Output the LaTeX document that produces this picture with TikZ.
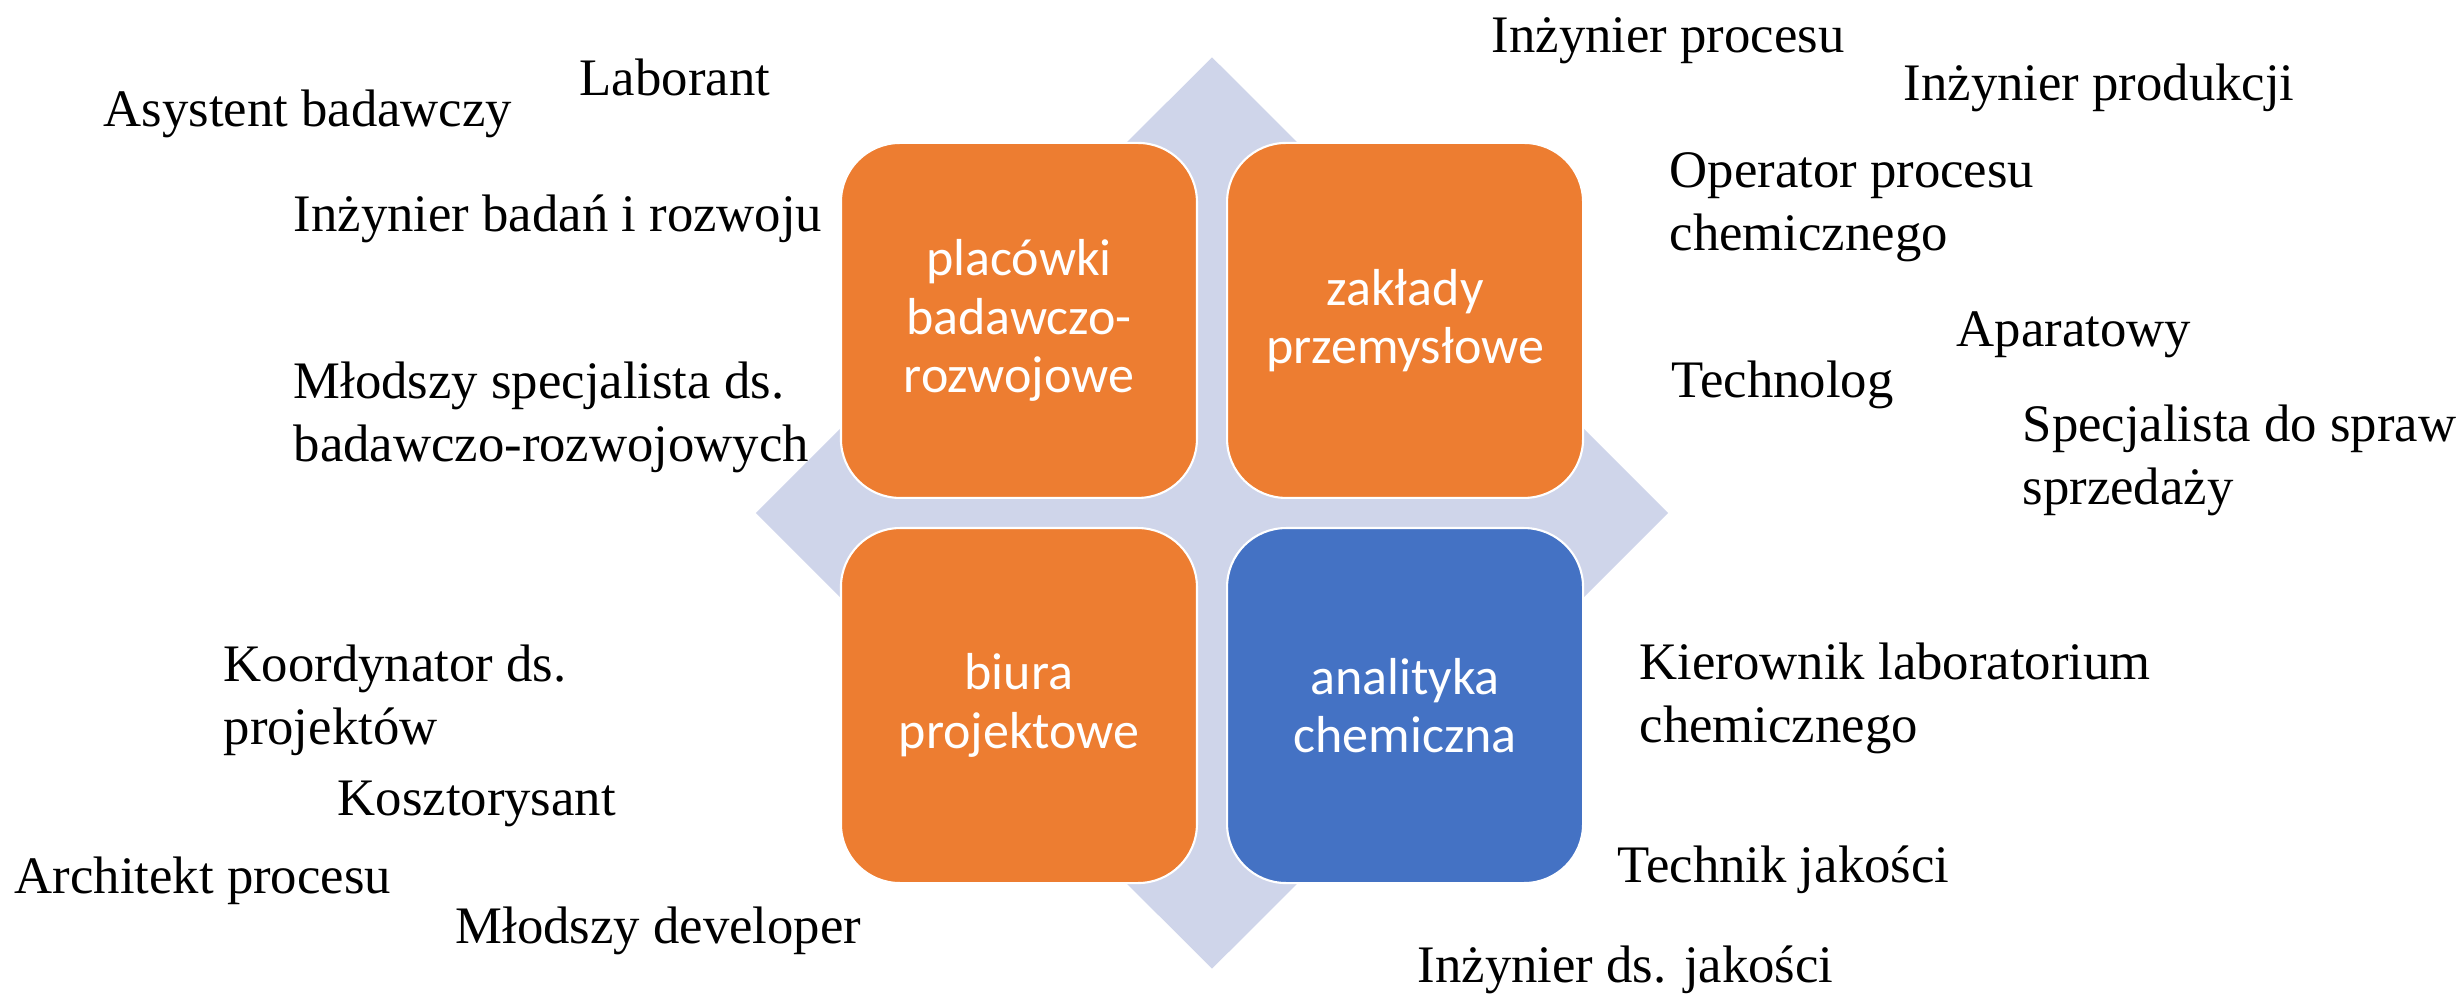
\documentclass[tikz,border=0pt]{standalone}
\usepackage{xcolor}
\usepackage{fontspec}
\setmainfont{Liberation Serif}
\newfontfamily\boxfont{Carlito}
\usepackage{tikz}
\usetikzlibrary{calc}
\usetikzlibrary{positioning}
\usetikzlibrary{shapes.geometric}
\definecolor{boxorange}{RGB}{237,125,49}
\definecolor{boxblue}{RGB}{68,114,196}
\definecolor{diamondblue}{RGB}{207,213,234}
\tikzset{>=latex}
\tikzstyle{job} = [draw=none, inner sep = 0, anchor = base west, align = left, font = \fontsize{15}{18}\selectfont]
\tikzstyle{area} = [draw = white, line width = 0.6pt, rounded corners = 5.9mm, minimum width = 3.56cm, minimum height = 3.55cm, inner sep = 0, align = center, text = white, font = \boxfont\fontsize{14.8}{16.6}\selectfont]

\begin{document}
\begin{tikzpicture}
\useasboundingbox (0, 0) rectangle (24.63, 9.93);
\node [diamond, fill = diamondblue, draw = none, inner sep = 0, minimum width = 9.13cm, minimum height = 9.12cm] (D) at (12.12, 4.80) {};
\node [area, fill = boxorange, above left = 1.4mm and 1.4mm of D.center] (P) {placówki\\badawczo-\\rozwojowe};
\node [area, fill = boxorange, above right = 1.4mm and 1.4mm of D.center] (Z) {zakłady\\przemysłowe};
\node [area, fill = boxorange, below left = 1.4mm and 1.4mm of D.center] (B) {biura\\projektowe};
\node [area, fill = boxblue, below right = 1.4mm and 1.4mm of D.center] (A) {analityka\\chemiczna};
\node [job] (Lab) at (5.79, 8.97) {Laborant};
\node [job] (Asy) at (1.03, 8.66) {Asystent badawczy};
\node [job] (IBR) at (2.93, 7.61) {Inżynier badań i rozwoju};
\node [job] (MSB) at (2.93, 5.31) {Młodszy specjalista ds.\\badawczo-rozwojowych};
\node [job] (IPc) at (14.91, 9.40) {Inżynier procesu};
\node [job] (IPd) at (19.03, 8.92) {Inżynier produkcji};
\node [job] (OPC) at (16.69, 7.42) {Operator procesu\\chemicznego};
\node [job] (Apa) at (19.56, 6.46) {Aparatowy};
\node [job] (Tec) at (16.71, 5.95) {Technolog};
\node [job] (SSS) at (20.22, 4.88) {Specjalista do spraw\\sprzedaży};
\node [job] (KDP) at (2.23, 2.48) {Koordynator ds.\\projektów};
\node [job] (Kos) at (3.37, 1.78) {Kosztorysant};
\node [job] (Arc) at (0.14, 1.00) {Architekt procesu};
\node [job] (MDv) at (4.55, 0.50) {Młodszy developer};
\node [job] (KLC) at (16.39, 2.50) {Kierownik laboratorium\\chemicznego};
\node [job] (TJk) at (16.17, 1.10) {Technik jakości};
\node [job] (IDJ) at (14.17, 0.11) {Inżynier ds. jakości};
\end{tikzpicture}
\end{document}
